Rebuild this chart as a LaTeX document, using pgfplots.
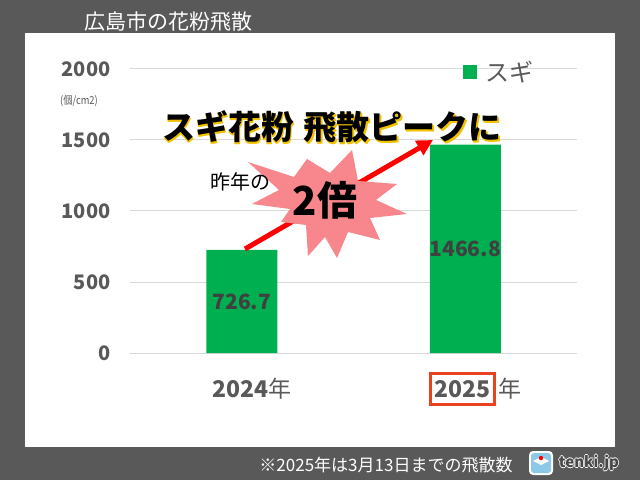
\documentclass[border=0pt]{standalone}
\usepackage{pgfplots}
\pgfplotsset{compat=1.18}
\usetikzlibrary{arrows.meta}
\usepackage{fontspec}
\setmainfont{Noto Sans CJK JP}

\definecolor{bggray}{HTML}{595959}
\definecolor{barg}{HTML}{00B050}
\definecolor{tickgray}{HTML}{595959}
\definecolor{valgray}{HTML}{404040}
\definecolor{gridgray}{HTML}{D9D9D9}
\definecolor{boxred}{HTML}{E8421E}
\definecolor{starpink}{HTML}{F7868D}
\definecolor{glow}{HTML}{F2C200}
\definecolor{logoblue}{HTML}{8CC8E8}

\newcommand{\fs}[1]{\fontsize{#1}{#1}\selectfont}

\begin{document}
\begin{tikzpicture}[x=1pt,y=1pt]
\useasboundingbox (0,0) rectangle (640,480);
\fill[bggray] (0,0) rectangle (640,480);
\fill[white] (25,33) rectangle (615,447);

% title
\node[text=white,font=\fs{21}] at (168,458) {広島市の花粉飛散};

\begin{axis}[
  at={(130pt,127pt)}, anchor=south west,
  scale only axis, width=447pt, height=284pt,
  ybar, bar width=71pt,
  xmin=-0.5, xmax=1.5, ymin=0, ymax=2000,
  xtick=data,
  xticklabels={{\textbf{2024}年},{\setlength\fboxsep{2.5pt}\setlength\fboxrule{3pt}\fcolorbox{boxred}{white}{\rule[-3pt]{0pt}{23pt}\textbf{2025}}\hspace{2pt}年}},
  ytick={0,500,1000,1500,2000},
  ymajorgrids, major grid style={gridgray, line width=1pt},
  axis line style={draw=none}, major tick length=0pt,
  /pgf/number format/assume math mode=true,
  /pgf/number format/1000 sep={},
  yticklabel style={font=\fs{20}\bfseries, text=tickgray, xshift=-16pt},
  xticklabel style={font=\fs{23}, text=tickgray, anchor=base, yshift=-44pt, xshift=10pt},
  legend style={draw=none, fill=none, at={(0.745,0.99)}, anchor=west,
    font=\fs{24}, text=tickgray, inner sep=0pt},
  legend image code/.code={\fill[barg] (0pt,-7pt) rectangle (14pt,7pt);},
]
\addplot[fill=barg, draw=none,
  visualization depends on={y \as \rawy},
  nodes near coords={\pgfmathprintnumber[fixed,fixed zerofill,precision=1,1000 sep={}]{\pgfplotspointmeta}},
  every node near coord/.append style={anchor=center, font=\fs{21}\bfseries, text=valgray,
    shift={(axis direction cs:0,-0.5*\rawy)}},
] coordinates {(0,726.7) (1,1466.8)};
\legend{\hspace{6pt}スギ}
\end{axis}

% unit
\node[text=tickgray,font=\fs{11}] at (79,379) {\scalebox{0.85}[1]{(個/cm2)}};

% arrow
\draw[red, line width=5pt, -{Triangle[length=16pt,width=16pt]}] (245,231) -- (433,340);

% starburst
\fill[starpink] (248,318) -- (294,303) -- (307,321) -- (330,307) -- (352,330) -- (358,299)
  -- (397,296) -- (376,280) -- (407,266) -- (370,262) -- (380,240) -- (348,248)
  -- (337,222) -- (325,243) -- (308,224) -- (306,255) -- (281,258) -- (290,271)
  -- (252,276) -- (279,290) -- cycle;
\node[font=\fs{40}\bfseries] at (325,280) {2倍};
\node[font=\fs{20}] at (240,298) {昨年の};

% headline with glow
\foreach \dx/\dy in {0.8/-1.2, 1.2/-1.8, 0.4/-1.8}
  \node[text=glow,font=\fs{33}\bfseries] at (332+\dx,353+\dy) {スギ花粉\hspace{0.3em}飛散ピークに};
\node[text=black,font=\fs{33}\bfseries] at (332,353) {スギ花粉\hspace{0.3em}飛散ピークに};

% footer
\node[text=white,font=\fs{17}] at (386,15) {※2025年は3月13日までの飛散数};
\fill[white,rounded corners=4pt] (529,5) rectangle (553,29);
\fill[logoblue,rounded corners=3pt] (531,7) rectangle (551,27);
\fill[white] (541,23) -- (549,19) -- (541,15) -- (533,19) -- cycle;
\fill[red] (541,22) circle (2.2pt);
\foreach \dx/\dy in {-0.8/0, 0.8/0, 0/-0.8, 0/0.8}
  \node[text=white,font=\fs{15}\bfseries] at (589+\dx,17+\dy) {tenki.jp};
\node[text=bggray!80!black,font=\fs{15}\bfseries] at (589,17) {tenki.jp};
\end{tikzpicture}
\end{document}
